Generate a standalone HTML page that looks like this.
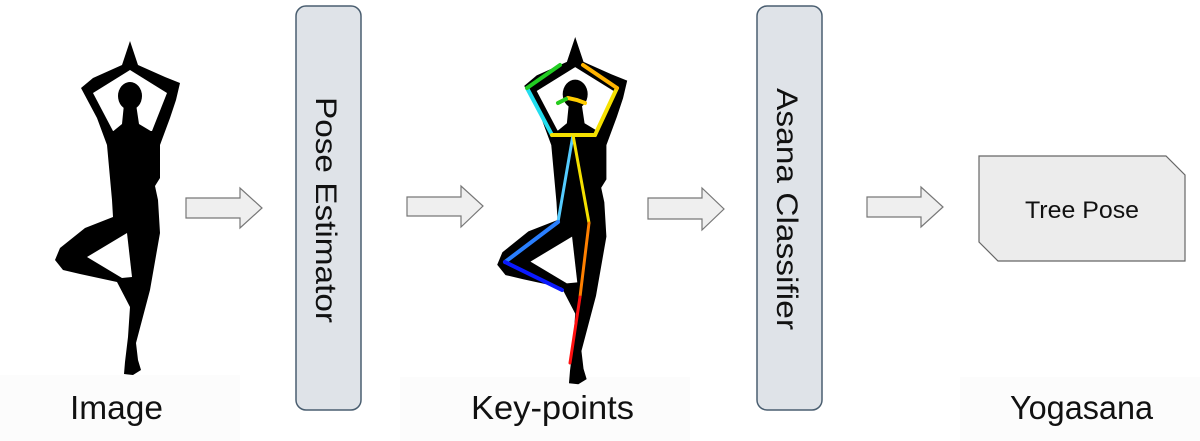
<!DOCTYPE html>
<html><head><meta charset="utf-8"><style>
html,body{margin:0;padding:0;background:#fff;width:1200px;height:441px;overflow:hidden}
svg{display:block}
</style></head><body>
<svg width="1200" height="441" viewBox="0 0 1200 441" xmlns="http://www.w3.org/2000/svg">
<defs>
<g id="fig">
<path fill="#000" d="M130,41 L138,65 L165,77 L180,83 L176,100 L170,118 L160,145 L160,178 L155,186 L158,200 L160,233 L150,290 L136,343 L138,360 L141,370 L133,375 L124,374 L125,362 L128,337 L130,307 L117,282 L80,274 L63,270 L55,260 L60,248 L85,228 L113,217 L112,200 L110,178 L107,145 L97,118 L81,88 L93,78 L122,65 Z"/>
<polygon fill="#fff" points="130,70 93,93 113,131 152,131 167,93"/>
<polygon fill="#fff" points="87,257 127,233 132,277 122,278"/>
<ellipse cx="130" cy="96" rx="12" ry="14" fill="#000"/>
<polygon fill="#000" points="111,133 122,124 124,104 136,104 139,124 154,133"/>
</g>
</defs>
<rect x="0" y="375" width="240" height="66" fill="#fcfcfc"/>
<rect x="400" y="377" width="290" height="64" fill="#fcfcfc"/>
<rect x="960" y="377" width="240" height="64" fill="#fcfcfc"/>
<use href="#fig"/>
<g transform="translate(440,-5.7) scale(1.04)"><use href="#fig"/></g>
<g stroke-width="4" stroke-linecap="round" fill="none">
<line x1="552" y1="135" x2="527" y2="88" stroke="#22ddee"/>
<line x1="527" y1="88" x2="560" y2="65" stroke="#22cc22"/>
<line x1="552" y1="135" x2="595" y2="135" stroke="#f5e000"/>
<line x1="595" y1="135" x2="617" y2="88" stroke="#f5e000"/>
<line x1="617" y1="88" x2="583" y2="65" stroke="#ffb300"/>
<polyline points="558,103 568,98 577,100 585,103" stroke="#ffcc00"/>
<line x1="558" y1="103" x2="566" y2="99" stroke="#22cc22"/>
<line x1="573" y1="135" x2="558" y2="222" stroke="#55ccff" stroke-width="3"/>
<line x1="573" y1="135" x2="589" y2="223" stroke="#f5e000" stroke-width="3"/>
<line x1="558" y1="222" x2="505" y2="262" stroke="#2a7fff"/>
<line x1="505" y1="262" x2="562" y2="290" stroke="#0a1aff"/>
<line x1="589" y1="223" x2="580" y2="297" stroke="#ff8000" stroke-width="3"/>
<line x1="580" y1="297" x2="570" y2="363" stroke="#ff1010" stroke-width="3"/>
</g>
<g fill="#efefef" stroke="#777" stroke-width="1.2">
<polygon points="186,198 240,198 240,188 262,208 240,228 240,218 186,218"/>
<polygon points="407,197 461,197 461,186 483,206 461,227 461,216 407,216"/>
<polygon points="648,198 702,198 702,188 724,209 702,230 702,219 648,219"/>
<polygon points="867,197 921,197 921,187 943,207 921,227 921,217 867,217"/>
</g>
<rect x="296" y="6" width="65" height="404" rx="10" fill="#dfe3e8" stroke="#4a5e70" stroke-width="1.5"/>
<rect x="757" y="6" width="65" height="404" rx="10" fill="#dfe3e8" stroke="#4a5e70" stroke-width="1.5"/>
<text transform="translate(316,97) rotate(90)" font-family="Liberation Sans, sans-serif" font-size="30" fill="#111" textLength="226" lengthAdjust="spacingAndGlyphs">Pose Estimator</text>
<text transform="translate(777,88) rotate(90)" font-family="Liberation Sans, sans-serif" font-size="30" fill="#111" textLength="242" lengthAdjust="spacingAndGlyphs">Asana Classifier</text>
<polygon points="979,156 1166,156 1185,175 1185,261 998,261 979,242" fill="#ececec" stroke="#666" stroke-width="1.2"/>
<text x="1025" y="218" font-family="Liberation Sans, sans-serif" font-size="24" fill="#111" textLength="114" lengthAdjust="spacingAndGlyphs">Tree Pose</text>
<g font-family="Liberation Sans, sans-serif" font-size="33" fill="#111">
<text x="70" y="419" textLength="93" lengthAdjust="spacingAndGlyphs">Image</text>
<text x="471" y="419" textLength="163" lengthAdjust="spacingAndGlyphs">Key-points</text>
<text x="1010" y="419" textLength="143" lengthAdjust="spacingAndGlyphs">Yogasana</text>
</g>
</svg>
</body></html>
